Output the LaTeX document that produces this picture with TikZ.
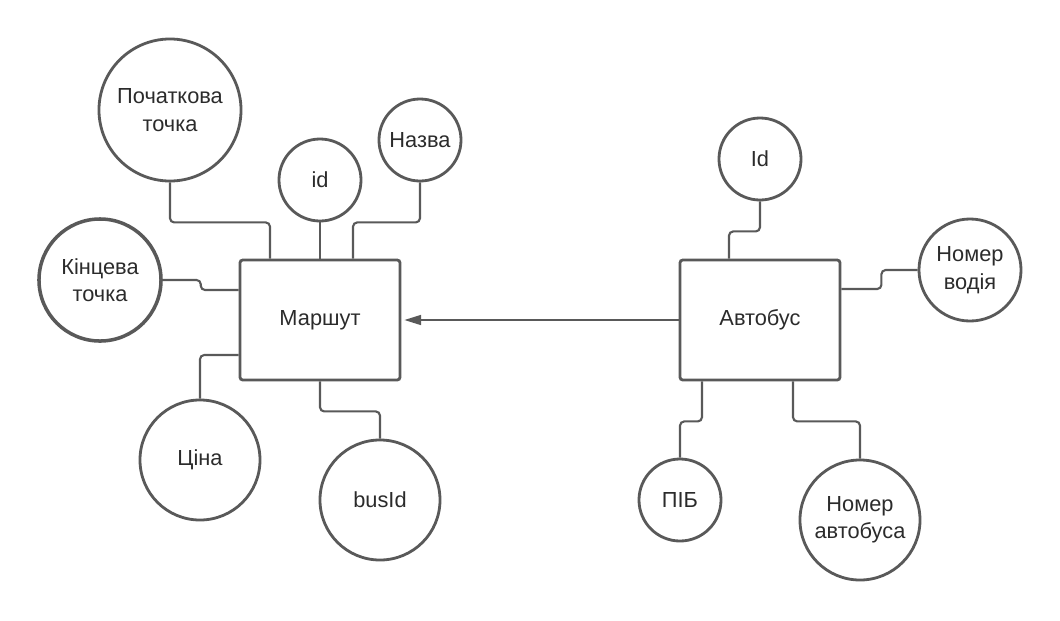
\documentclass[tikz,border=0pt]{standalone}
\usepackage{fontspec}
\setmainfont{Liberation Sans}
\usepackage{xcolor}
\definecolor{erd-line}{HTML}{595959}
\definecolor{erd-text}{HTML}{2B2B2B}
\usetikzlibrary{arrows.meta}

\tikzset{
    entity/.style={draw=erd-line, line width=2pt, rounded corners=2pt, minimum width=4cm, minimum height=3cm, text=erd-text, font=\fontsize{15.5}{19.5}\selectfont},
    attr/.style={draw=erd-line, line width=2pt, circle, inner sep=0pt, align=center, text=erd-text, font=\fontsize{15.5}{19.5}\selectfont},
    link/.style={draw=erd-line, line width=1.5pt, rounded corners=3pt},
}

\begin{document}
\begin{tikzpicture}[x=0.025cm, y=-0.025cm]

    % Frame
    \useasboundingbox (0, 0) rectangle (1060, 620);

    % Entities
    \node[entity] (marshrut) at (320, 320) {Маршут};
    \node[entity] (avtobus) at (760, 320) {Автобус};

    % Attributes of the route
    \node[attr, minimum size=3.55cm] (pochatkova) at (170, 110) {Початкова\\точка};
    \node[attr, minimum size=2.05cm] (id-route) at (320, 180) {id};
    \node[attr, minimum size=2.05cm] (nazva) at (420, 140) {Назва};
    \node[attr, minimum size=3.05cm, line width=2.5pt] (kintseva) at (100, 280) {Кінцева\\точка};
    \node[attr, minimum size=3cm] (tsina) at (200, 460) {Ціна};
    \node[attr, minimum size=3cm] (busid) at (380, 500) {busId};

    % Attributes of the bus
    \node[attr, minimum size=2.05cm] (id-bus) at (760, 159) {Id};
    \node[attr, minimum size=2.55cm] (vodiy) at (970, 270) {Номер\\водія};
    \node[attr, minimum size=2.05cm] (pib) at (680, 500) {ПІБ};
    \node[attr, minimum size=3cm] (nomer-avt) at (860, 520) {Номер\\автобуса};

    % Links
    \draw[link] (pochatkova.south) -- ++(0, 40) -| ([xshift=-1.25cm]marshrut.north);
    \draw[link] (id-route.south) -- (marshrut.north);
    \draw[link] (nazva.south) -- ++(0, 40) -| ([xshift=0.825cm]marshrut.north);
    \draw[link] (kintseva.east) -- ++(38, 0) |- ([yshift=0.75cm]marshrut.west);
    \draw[link] ([yshift=-0.875cm]marshrut.west) -| (tsina.north);
    \draw[link] (marshrut.south) -- ++(0, 30) -| (busid.north);

    \draw[link] (id-bus.south) -- ++(0, 30) -| ([xshift=-0.775cm]avtobus.north);
    \draw[link] ([yshift=0.775cm]avtobus.east) -- ++(40, 0) |- (vodiy.west);
    \draw[link] ([xshift=-1.45cm]avtobus.south) -- ++(0, 40) -| (pib.north);
    \draw[link] ([xshift=0.825cm]avtobus.south) -- ++(0, 40) -| (nomer-avt.north);

    % Relation
    \draw[link, -{Triangle[length=12pt, width=7pt]}, shorten >=2pt] (avtobus.west) -- (marshrut.east);

\end{tikzpicture}
\end{document}
